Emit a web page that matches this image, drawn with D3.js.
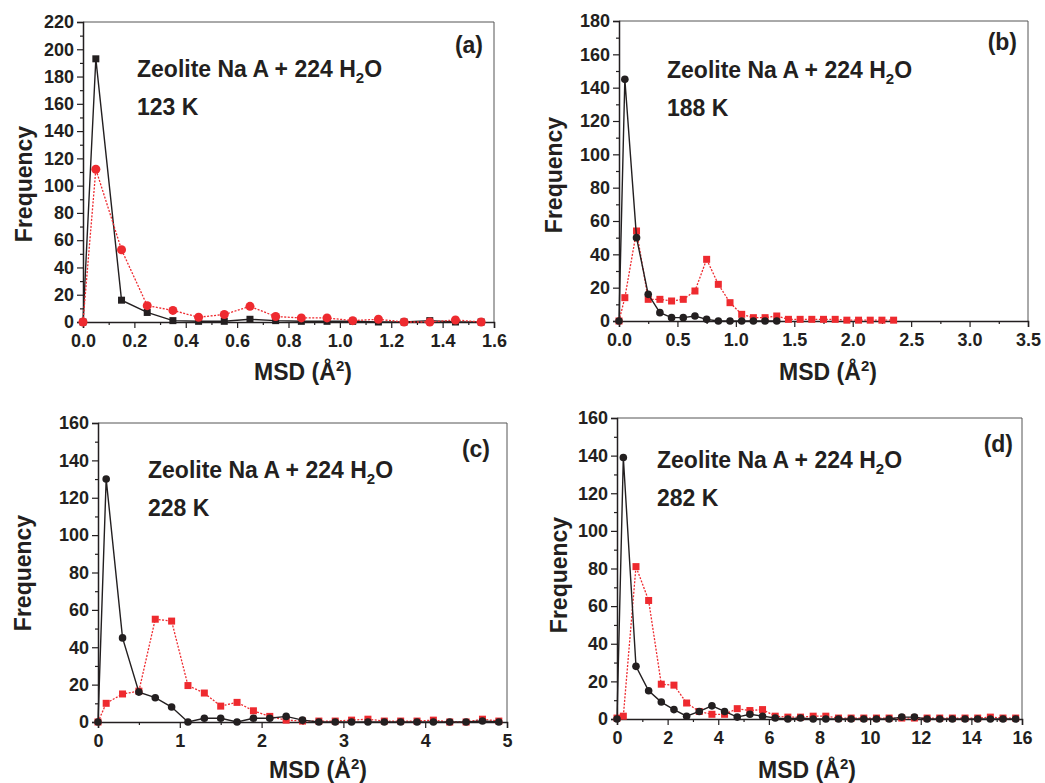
<!DOCTYPE html>
<html>
<head>
<meta charset="utf-8">
<script src="https://cdn.jsdelivr.net/npm/d3@7"></script>
<style>
  body { margin: 0; background: #fff; }
  svg text { font-family: "Liberation Sans", Arial, Helvetica, sans-serif; font-weight: bold; fill: #231f20; }
</style>
</head>
<body>
<svg id="chart" width="1045" height="783"></svg>
<script>
// panel (a) 123 K
const aX = [0, 0.05, 0.15, 0.25, 0.35, 0.45, 0.55, 0.65, 0.75, 0.85, 0.95, 1.05, 1.15, 1.25, 1.35, 1.45, 1.55];
const aBlack = [0, 193, 16, 7, 1, 0.5, 0.5, 2, 1, 0.5, 0.5, 0.5, 0, 0, 1, 0, 0];
const aRed = [0, 112, 53, 12, 8.5, 3.5, 5.5, 11.5, 4, 3, 3, 1, 2, 0, 0, 1.5, 0];

// panel (b) 188 K
const bBlackX = [0, 0.05, 0.15, 0.25, 0.35, 0.45, 0.55, 0.65, 0.75, 0.85, 0.95, 1.05, 1.15, 1.25, 1.35];
const bBlack = [0, 145, 50, 16, 5, 2, 2, 3, 1, 0, 0, 0, 0, 0, 0];
const bRedX = [0, 0.05, 0.15, 0.25, 0.35, 0.45, 0.55, 0.65, 0.75, 0.85, 0.95, 1.05, 1.15, 1.25, 1.35, 1.45, 1.55, 1.65, 1.75, 1.85, 1.95, 2.05, 2.15, 2.25, 2.35];
const bRed = [0, 14, 54, 13, 13, 12, 13, 18, 37, 22, 11, 4, 2, 2, 3, 1, 1, 1, 1, 1, 0.5, 0.5, 0.5, 0.5, 0.5];

// panel (c) 228 K
const cX = [0, 0.1, 0.3, 0.5, 0.7, 0.9, 1.1, 1.3, 1.5, 1.7, 1.9, 2.1, 2.3, 2.5, 2.7, 2.9, 3.1, 3.3, 3.5, 3.7, 3.9, 4.1, 4.3, 4.5, 4.7, 4.9];
const cBlack = [0, 130, 45, 16, 13, 8, 0, 2, 2, 0, 2, 2, 3, 1, 0, 0, 0, 0, 0, 0, 0, 0, 0, 0, 0.5, 0];
const cRed = [0, 10, 15, 16.5, 55, 54, 19.5, 15.5, 8.5, 10.5, 6, 3, 1, 0.5, 0.5, 0.5, 1, 1.5, 0.5, 0.5, 0.5, 1, 0, 0, 1.5, 0.5];

// panel (d) 282 K
const dX = [0, 0.25, 0.75, 1.25, 1.75, 2.25, 2.75, 3.25, 3.75, 4.25, 4.75, 5.25, 5.75, 6.25, 6.75, 7.25, 7.75, 8.25, 8.75, 9.25, 9.75, 10.25, 10.75, 11.25, 11.75, 12.25, 12.75, 13.25, 13.75, 14.25, 14.75, 15.25, 15.75];
const dBlack = [0, 139, 28, 15, 9, 5, 1.5, 4, 7, 4, 1, 2.5, 1.5, 0.5, 0, 0.5, 0, 0, 0, 0, 0, 0, 0, 1, 1, 0, 0, 0, 0, 0, 0, 0, 0];
const dRed = [0.5, 1.5, 81, 63, 18.5, 18, 8.5, 4, 2.5, 2.5, 5.5, 4.5, 5, 1.5, 1, 1, 1.5, 1.5, 0.5, 0.5, 0.5, 0.5, 0.5, 0.5, 0.5, 0.5, 0.5, 0.5, 0.5, 0.5, 1, 0.5, 0.5];

const svg = d3.select("#chart");
const black = "#231f20", red = "#ee2a2f";

const panels = [
  { box: [83, 22, 494, 322], xMax: 1.6, xStep: 0.2, yMax: 220, fmt: ".1f", tag: "(a)", temp: "123 K",
    tagPos: [483, 53], notePos: [137, 77], yTitle: [23, 184], xTitle: [303, 380],
    black: { x: aX, y: aBlack, shape: "square" }, red: { x: aX, y: aRed, shape: "circle" }, redOnTop: true },
  { box: [619, 21, 1028, 321], xMax: 3.5, xStep: 0.5, yMax: 180, fmt: ".1f", tag: "(b)", temp: "188 K",
    tagPos: [1017, 50], notePos: [667, 78], yTitle: [553, 175], xTitle: [828, 380],
    black: { x: bBlackX, y: bBlack, shape: "circle" }, red: { x: bRedX, y: bRed, shape: "square" } },
  { box: [98, 423, 507, 722], xMax: 5, xStep: 1, yMax: 160, fmt: "d", tag: "(c)", temp: "228 K",
    tagPos: [490, 457], notePos: [148, 478], yTitle: [22, 573], xTitle: [318, 778],
    black: { x: cX, y: cBlack, shape: "circle" }, red: { x: cX, y: cRed, shape: "square" } },
  { box: [617, 418, 1022, 719], xMax: 16, xStep: 2, yMax: 160, fmt: "d", tag: "(d)", temp: "282 K",
    tagPos: [1013, 452], notePos: [657, 468], yTitle: [558, 575], xTitle: [807, 778],
    black: { x: dX, y: dBlack, shape: "circle" }, red: { x: dX, y: dRed, shape: "square" } }
];

panels.forEach(p => {
  const [l, t, r, b] = p.box;
  const x = d3.scaleLinear().domain([0, p.xMax]).range([l, r]);
  const y = d3.scaleLinear().domain([0, p.yMax]).range([b, t]);
  const g = svg.append("g");

  // frame (top/right)
  g.append("path")
    .attr("d", `M${l},${t}H${r}V${b}`)
    .attr("fill", "none").attr("stroke", "#555").attr("stroke-width", 1);

  const xMajor = d3.range(0, p.xMax + p.xStep / 2, p.xStep);
  const xMinor = d3.range(p.xStep / 2, p.xMax, p.xStep);
  const yMajor = d3.range(0, p.yMax + 1, 20);
  const yMinor = d3.range(10, p.yMax, 20);

  const xAxis = g.append("g").attr("transform", `translate(0,${b})`)
    .call(d3.axisBottom(x).tickValues(xMajor).tickFormat(d3.format(p.fmt)).tickSize(6).tickPadding(6));
  g.append("g").attr("transform", `translate(0,${b})`)
    .call(d3.axisBottom(x).tickValues(xMinor).tickFormat("").tickSize(3))
    .call(s => s.select(".domain").remove());
  const yAxis = g.append("g").attr("transform", `translate(${l},0)`)
    .call(d3.axisLeft(y).tickValues(yMajor).tickSize(6).tickPadding(3));
  g.append("g").attr("transform", `translate(${l},0)`)
    .call(d3.axisLeft(y).tickValues(yMinor).tickFormat("").tickSize(3))
    .call(s => s.select(".domain").remove());

  g.selectAll(".domain").attr("stroke", black).attr("stroke-width", 1.5);
  g.selectAll(".tick line").attr("stroke", black).attr("stroke-width", 1.2);
  [xAxis, yAxis].forEach(a => {
    a.attr("font-size", 18).attr("font-family", '"Liberation Sans", Arial, sans-serif');
    a.selectAll("text").attr("fill", black).attr("font-size", 18).attr("font-weight", "bold");
  });

  const drawSeries = (s, color, dashed) => {
    const pts = s.x.map((v, i) => [v, s.y[i]]);
    g.append("path")
      .attr("d", d3.line().x(d => x(d[0])).y(d => y(d[1]))(pts))
      .attr("fill", "none").attr("stroke", color)
      .attr("stroke-width", dashed ? 1.3 : 1.4)
      .attr("stroke-dasharray", dashed ? "2,1.5" : null);
    if (s.shape === "circle") {
      g.selectAll(null).data(pts).enter().append("circle")
        .attr("cx", d => x(d[0])).attr("cy", d => y(d[1]))
        .attr("r", color === red ? 4.5 : 3.8).attr("fill", color);
    } else {
      g.selectAll(null).data(pts).enter().append("rect")
        .attr("x", d => x(d[0]) - 3.5).attr("y", d => y(d[1]) - 3.5)
        .attr("width", 7).attr("height", 7).attr("fill", color);
    }
  };
  if (p.redOnTop) {
    drawSeries(p.black, black, false);
    drawSeries(p.red, red, true);
  } else {
    drawSeries(p.red, red, true);
    drawSeries(p.black, black, false);
  }

  // annotations
  g.append("text").attr("x", p.tagPos[0]).attr("y", p.tagPos[1])
    .attr("text-anchor", "end").style("font-size", "23px").text(p.tag);
  const note = g.append("text").attr("x", p.notePos[0]).attr("y", p.notePos[1]).style("font-size", "23px");
  note.append("tspan").text("Zeolite Na A + 224 H");
  note.append("tspan").attr("dy", 6).style("font-size", "15px").text("2");
  note.append("tspan").attr("dy", -6).text("O");
  g.append("text").attr("x", p.notePos[0]).attr("y", p.notePos[1] + 38)
    .style("font-size", "23px").text(p.temp);

  g.append("text")
    .attr("transform", `translate(${p.yTitle[0] + 9},${p.yTitle[1]}) rotate(-90)`)
    .attr("text-anchor", "middle").style("font-size", "23px").text("Frequency");

  const xt = g.append("text").attr("x", p.xTitle[0]).attr("y", p.xTitle[1])
    .attr("text-anchor", "middle").style("font-size", "23px");
  xt.append("tspan").text("MSD (Å");
  xt.append("tspan").attr("dy", -9).style("font-size", "15px").text("2");
  xt.append("tspan").attr("dy", 9).text(")");
});
</script>
</body>
</html>
